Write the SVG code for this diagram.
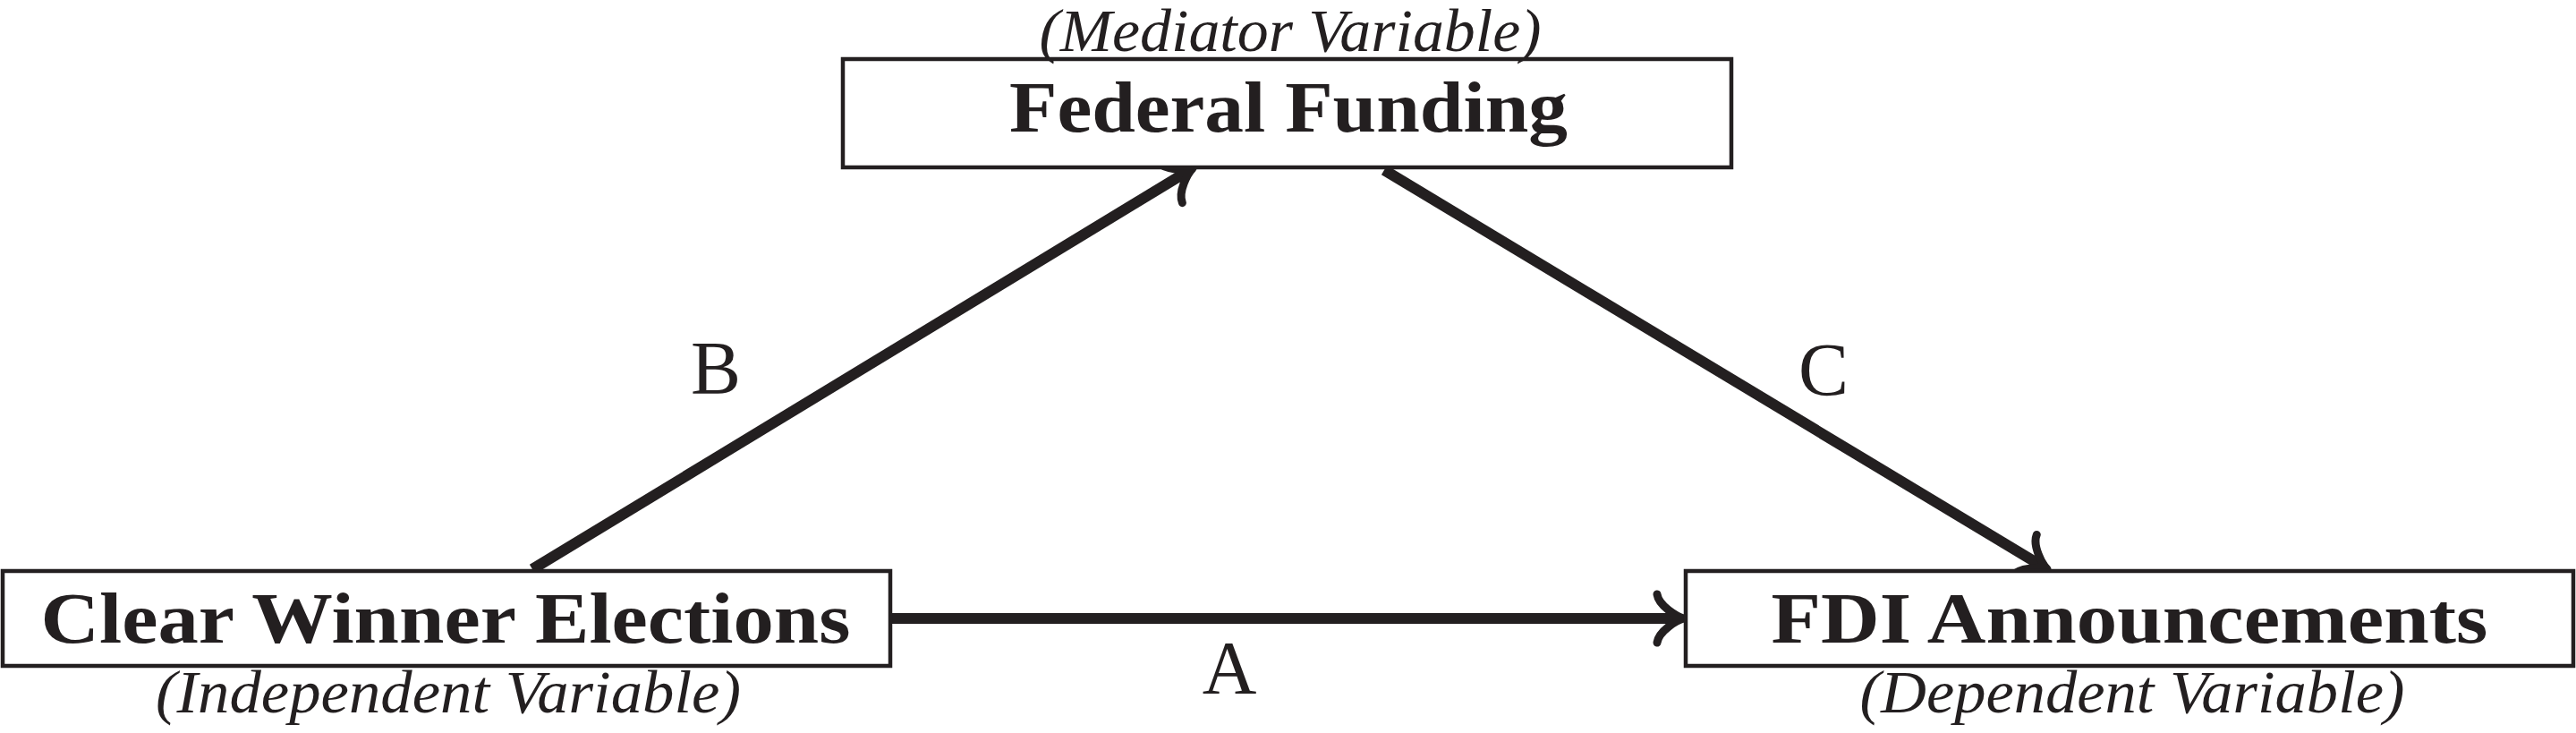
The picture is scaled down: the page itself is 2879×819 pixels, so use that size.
<svg xmlns="http://www.w3.org/2000/svg" width="2879" height="819" viewBox="0 0 2879 819">
  <style>
    .box { fill: #ffffff; stroke: #231f20; stroke-width: 4.5; }
    .title { font-family: "Liberation Serif", "DejaVu Serif", serif; font-weight: bold; font-size: 80px; fill: #231f20; text-anchor: middle; }
    .role { font-family: "Liberation Serif", "DejaVu Serif", serif; font-style: italic; font-size: 68px; fill: #231f20; text-anchor: middle; }
    .lbl { font-family: "Liberation Serif", "DejaVu Serif", serif; font-size: 84px; fill: #231f20; text-anchor: middle; }
    .edge { fill: none; stroke: #231f20; stroke-width: 12; stroke-linecap: butt; }
  </style>
  <defs>
    <marker id="to" markerUnits="userSpaceOnUse" orient="auto" refX="-6" refY="0" markerWidth="60" markerHeight="80" viewBox="-40 -40 50 80" overflow="visible">
      <path d="M -30,-27 C -28,-14 -8,-2 0,0 C -8,2 -28,14 -30,27" fill="none" stroke="#231f20" stroke-width="9" stroke-linecap="round" stroke-linejoin="round"/>
    </marker>
  </defs>

  <g id="connectors">
    <g id="edge-A">
      <line class="edge" x1="997" y1="691" x2="1876" y2="691" marker-end="url(#to)"/>
      <text class="lbl" x="1374" y="775">A</text>
    </g>
    <g id="edge-B">
      <line class="edge" x1="595" y1="636" x2="1327.9" y2="191.1" marker-end="url(#to)"/>
      <text class="lbl" x="800" y="440">B</text>
    </g>
    <g id="edge-C">
      <line class="edge" x1="1547" y1="190" x2="2282.9" y2="632.9" marker-end="url(#to)"/>
      <text class="lbl" x="2038" y="442">C</text>
    </g>
  </g>

  <g id="node-mediator">
    <rect class="box" x="942" y="66" width="993" height="121"/>
    <text class="title" x="1440" y="147" textLength="624" lengthAdjust="spacingAndGlyphs">Federal Funding</text>
    <text class="role" x="1442" y="57" font-size="62" textLength="561" lengthAdjust="spacingAndGlyphs">(Mediator Variable)</text>
  </g>

  <g id="node-independent">
    <rect class="box" x="3" y="638" width="992" height="106"/>
    <text class="title" x="498" y="718" textLength="905" lengthAdjust="spacingAndGlyphs">Clear Winner Elections</text>
    <text class="role" x="501" y="796" textLength="654" lengthAdjust="spacingAndGlyphs">(Independent Variable)</text>
  </g>

  <g id="node-dependent">
    <rect class="box" x="1884" y="638" width="992" height="106"/>
    <text class="title" x="2380" y="718" textLength="801" lengthAdjust="spacingAndGlyphs">FDI Announcements</text>
    <text class="role" x="2383" y="796" textLength="609" lengthAdjust="spacingAndGlyphs">(Dependent Variable)</text>
  </g>
</svg>
